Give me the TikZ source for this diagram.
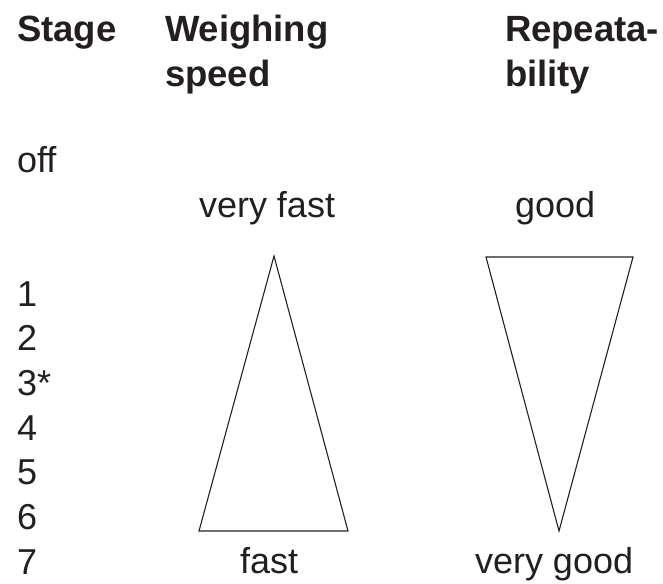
\documentclass[tikz,border=0pt]{standalone}
\usepackage{fontspec}
\setmainfont{Liberation Sans}
\definecolor{ink}{HTML}{231F20}
\begin{document}
\begin{tikzpicture}[x=1pt,y=-1pt,
  txt/.style={inner sep=0pt,outer sep=0pt,text=ink,font=\fontsize{36}{44.7}\selectfont},
  hd/.style={txt,font=\fontsize{36.5}{44.7}\selectfont\bfseries},
  tri/.style={draw=ink,line width=1.1pt,line join=miter}]
\useasboundingbox (0,0) rectangle (663,583);
% headers
\node[hd,anchor=base west] (stage) at (17,42) {Stage};
\node[hd,anchor=base west] (weigh1) at (165,42) {Weighing};
\node[hd,anchor=base west] (weigh2) at (165,87) {speed};
\node[hd,anchor=base west] (rep1) at (505,42) {Repeata-};
\node[hd,anchor=base west] (rep2) at (505,87) {bility};
% stages
\node[txt,anchor=base west] (off) at (17,172) {off};
\foreach \n/\t [count=\i from 0] in {s1/1,s2/2,s3/3*,s4/4,s5/5,s6/6,s7/7}
  \node[txt,anchor=base west] (\n) at (17,306+44.7*\i) {\t};
% labels
\node[txt,anchor=base west] (vfast) at (199,217) {very fast};
\node[txt,anchor=base west] (good) at (515,217) {good};
\node[txt,anchor=base west] (fast) at (240,573) {fast};
\node[txt,anchor=base west] (vgood) at (475,573) {very good};
% triangles
\draw[tri] (274,256) -- (348,531) -- (199,531) -- cycle;
\draw[tri] (486,257) -- (633,257) -- (559,531) -- cycle;
\end{tikzpicture}
\end{document}
